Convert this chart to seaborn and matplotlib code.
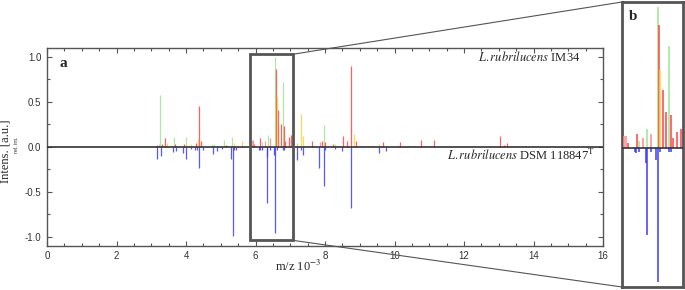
import numpy as np
import pandas as pd
import seaborn as sns
import matplotlib
matplotlib.use("Agg")
import matplotlib.pyplot as plt
from matplotlib.patches import Rectangle, ConnectionPatch
from matplotlib.ticker import MultipleLocator

# ---------------- data ----------------
# upper spectrum: L. rubrilucens IM34 (m/z in 10^3, relative intensity, colour class)
top_mz = [3.16, 3.21, 3.26, 3.32, 3.39, 3.45, 3.66, 3.68, 3.93, 3.99, 4.14, 4.28, 4.34, 4.38, 4.43,
          4.75, 4.80, 5.09, 5.15, 5.33, 5.39, 5.60,
          5.89, 5.93, 5.96, 6.14, 6.18, 6.26, 6.35, 6.43, 6.56, 6.59, 6.61, 6.66, 6.72, 6.78, 6.82,
          6.86, 6.95, 7.03,
          7.20, 7.31, 7.36, 7.63, 7.86, 7.91, 7.97, 8.01, 8.22, 8.30, 8.51, 8.62, 8.76, 8.84, 8.89,
          9.55, 9.66, 10.06, 10.17, 10.76, 11.15, 13.04, 13.16, 13.25]
top_int = [0.02, 0.03, 0.58, 0.03, 0.10, 0.04, 0.11, 0.03, 0.03, 0.11, 0.03, 0.04, 0.09, 0.46, 0.06,
           0.03, 0.03, 0.08, 0.02, 0.11, 0.04, 0.07,
           0.08, 0.08, 0.03, 0.10, 0.05, 0.07, 0.13, 0.10, 1.00, 0.87, 0.55, 0.41, 0.25, 0.72, 0.23,
           0.07, 0.11, 0.13,
           0.04, 0.37, 0.12, 0.06, 0.05, 0.06, 0.24, 0.05, 0.03, 0.03, 0.12, 0.06, 0.90, 0.14, 0.06,
           0.03, 0.05, 0.02, 0.05, 0.08, 0.08, 0.12, 0.02, 0.04]
top_cls = ['red', 'green', 'green', 'red', 'red', 'yellow', 'green', 'red', 'red', 'green', 'yellow',
           'red', 'yellow', 'red', 'red',
           'green', 'green', 'green', 'red', 'green', 'yellow', 'yellow',
           'pink', 'pink', 'red', 'red', 'green', 'pink', 'green', 'pink', 'green', 'red', 'yellow',
           'red', 'red', 'green', 'red', 'red', 'red', 'red',
           'green', 'yellow', 'yellow', 'red', 'pink', 'red', 'green', 'red', 'red', 'green', 'red',
           'red', 'red', 'yellow', 'red',
           'green', 'red', 'green', 'red', 'red', 'red', 'red', 'red', 'red']

# lower spectrum: L. rubrilucens DSM 118847T (plotted downward)
bot_mz = [3.17, 3.27, 3.62, 3.71, 3.92, 3.99, 4.14, 4.26, 4.33, 4.38, 4.48, 4.79, 4.88, 5.05,
          5.30, 5.34, 5.38, 5.45,
          6.10, 6.13, 6.18, 6.32, 6.34, 6.43, 6.53, 6.56, 6.61, 6.78, 6.83,
          7.19, 7.30, 7.36, 7.82, 7.98, 8.01, 8.30, 8.48, 8.74, 9.55, 9.75]
bot_int = [0.14, 0.10, 0.06, 0.05, 0.07, 0.13, 0.02, 0.03, 0.04, 0.23, 0.03, 0.08, 0.05, 0.02,
           0.14, 0.99, 0.03, 0.03,
           0.03, 0.04, 0.03, 0.11, 0.62, 0.03, 0.09, 0.955, 0.03, 0.03, 0.03,
           0.15, 0.04, 0.09, 0.23, 0.44, 0.03, 0.02, 0.05, 0.68, 0.07, 0.05]

x_ticks = [0, 2, 4, 6, 8, 10, 12, 14, 16]
y_ticks = [-1.0, -0.5, 0.0, 0.5, 1.0]
zoom_range = (5.85, 7.07)

palette = {'green': '#9fe596', 'red': '#ff4343', 'pink': '#ff8a8a',
           'yellow': '#ffd23c', 'blue': '#3b3bff'}
zorders = {'green': 2, 'pink': 3, 'red': 4, 'yellow': 5, 'blue': 3}

top = pd.DataFrame({'mz': top_mz, 'intensity': top_int, 'cls': top_cls})
bot = pd.DataFrame({'mz': bot_mz, 'intensity': [-v for v in bot_int], 'cls': 'blue'})
spec = pd.concat([top, bot], ignore_index=True)

# ---------------- style ----------------
sns.set_theme(style="ticks")
plt.rcParams['font.family'] = ['Liberation Sans', 'DejaVu Sans']
plt.rcParams['mathtext.fontset'] = 'stix'
plt.rcParams['axes.unicode_minus'] = False

fig = plt.figure(figsize=(6.85, 2.9), dpi=100)
W, H = 685, 290
ax = fig.add_axes([47 / W, 1 - 245.7 / H, (603 - 47) / W, (245.7 - 48) / H])
axb = fig.add_axes([622 / W, 1 - 287 / H, (683 - 622) / W, (287 - 2) / H])


def draw(a, lw):
    for cls, g in spec.groupby('cls'):
        a.vlines(g['mz'], 0, g['intensity'], colors=palette[cls], lw=lw,
                 alpha=0.85, zorder=zorders[cls])
    a.axhline(0, color='#333333', lw=1.2, zorder=6)


draw(ax, 0.9)
ax.set_xlim(0, 16)
ax.set_ylim(-1.1, 1.1)
ax.set_xticks(x_ticks)
ax.set_xticklabels([str(t) for t in x_ticks])
ax.set_yticks(y_ticks)
ax.set_yticklabels([f"{t:.1f}" for t in y_ticks])
ax.xaxis.set_minor_locator(MultipleLocator(0.5))
ax.yaxis.set_minor_locator(MultipleLocator(0.25))
ax.tick_params(which='both', direction='in', top=True, right=True, color='#555555',
               labelsize=7, labelcolor='#333333', pad=4)
ax.tick_params(which='major', length=3.5, width=0.8)
ax.tick_params(which='minor', length=2.2, width=0.8)
for s in ax.spines.values():
    s.set_color('#555555')
    s.set_linewidth(1.0)

# zoom rectangle
ax.add_patch(Rectangle((zoom_range[0], -1.04), zoom_range[1] - zoom_range[0], 2.07,
                       fill=False, edgecolor='#555555', lw=2.0, zorder=7))

serif = ['Liberation Serif', 'DejaVu Serif']
ax.text(0.37, 0.93, 'a', fontsize=11, fontweight='bold', family=serif, va='center', ha='left')
ax.text(15.34, 1.0, r'$\mathit{L.rubrilucens}$ IM34', fontsize=9, family=serif,
        ha='right', va='center')
ax.text(15.77, -0.015, r'$\mathit{L.rubrilucens}$ DSM 118847$^{\mathrm{T}}$', fontsize=9,
        family=serif, ha='right', va='top')

fig.text(6 / W, 1 - 151 / H, 'Intens. [a.u.]', rotation=90, family=serif, fontsize=9,
         ha='center', va='center')
fig.text(16.5 / W, 1 - 145 / H, 'rel. int.', rotation=90, fontsize=4, ha='center', va='center',
         color='#333333')
fig.text(275 / W, 1 - 266 / H, r'm/z 10$^{\mathrm{-3}}$', family=serif, fontsize=9,
         ha='left', va='center')

# panel b
draw(axb, 1.3)
axb.set_xlim(*zoom_range)
axb.set_ylim(-0.99, 1.035)
axb.set_xticks([])
axb.set_yticks([])
for s in axb.spines.values():
    s.set_color('#555555')
    s.set_linewidth(2.0)
axb.text(0.12, 0.95, 'b', transform=axb.transAxes, fontsize=11, fontweight='bold',
         family=serif, ha='left', va='center')

# connectors
for ya, yb in [(1.03, 1.0), (-1.04, 0.0)]:
    con = ConnectionPatch(xyA=(zoom_range[1], ya), coordsA=ax.transData,
                          xyB=(0, yb), coordsB=axb.transAxes,
                          color='#555555', lw=0.8)
    fig.add_artist(con)

fig.savefig('out.png', dpi=100)
